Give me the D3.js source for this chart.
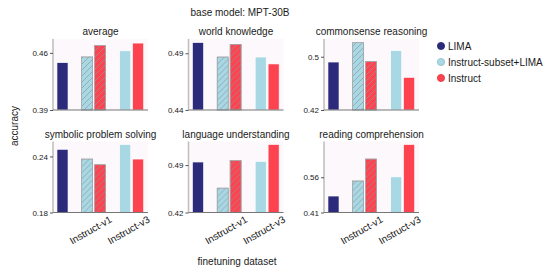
<!DOCTYPE html>
<html>
<head>
<meta charset="utf-8">
<script src="https://cdn.jsdelivr.net/npm/d3@7"></script>
<style>
  body { margin: 0; background: #fff; }
  text { font-family: "Liberation Sans", Arial, sans-serif; fill: #1a1a1a; }
</style>
</head>
<body>
<div id="chart"></div>
<script>
// data
var panelNames = ["average", "world knowledge", "commonsense reasoning",
                  "symbolic problem solving", "language understanding", "reading comprehension"];
var limaVals     = [0.448, 0.4994, 0.492, 0.2476, 0.4945, 0.480];
var subsetV1Vals = [0.455, 0.4867, 0.521, 0.2372, 0.456, 0.544];
var instrV1Vals  = [0.469, 0.4979, 0.4928, 0.2311, 0.4965, 0.6375];
var subsetV3Vals = [0.4625, 0.4867, 0.509, 0.2527, 0.4954, 0.5615];
var instrV3Vals  = [0.472, 0.4806, 0.469, 0.2372, 0.5203, 0.699];
var yMinVals  = [0.39, 0.44, 0.42, 0.18, 0.42, 0.41];
var yTickVals = [0.46, 0.49, 0.5, 0.24, 0.49, 0.56];
var yMaxVals  = [0.477, 0.5026, 0.5266, 0.256, 0.5248, 0.712];
var xTickLabels = ["Instruct-v1", "Instruct-v3"];
var legendLabels = ["LIMA", "Instruct-subset+LIMA", "Instruct"];

var colLima = "#2b2a7b", colSubset = "#a8d8e4", colInstr = "#fe4350";

var width = 550, height = 275;
var panelW = 95, panelH = 71;
var left0 = 53, colStep = 135.5;
var rowTops = [39, 141.5];

var svg = d3.select("#chart")
            .append("svg")
            .attr("width", width)
            .attr("height", height);

var defs = svg.append("defs");
var pat = defs.append("pattern")
    .attr("id", "hatch")
    .attr("patternUnits", "userSpaceOnUse")
    .attr("width", 6)
    .attr("height", 6);
pat.append("path")
    .attr("d", "M-1,1 l2,-2 M0,6 l6,-6 M5,7 l2,-2")
    .attr("stroke", "#8c9aa0")
    .attr("stroke-width", 0.7);

var x = d3.scaleLinear().domain([-0.07, 2.43]).range([0, panelW]);
var bw = 0.29;

svg.append("text")
    .attr("x", 240)
    .attr("y", 12)
    .attr("text-anchor", "middle")
    .attr("dominant-baseline", "central")
    .attr("font-size", 10)
    .text("base model: MPT-30B");

panelNames.forEach(function(name, i) {
    var row = Math.floor(i / 3), col = i % 3;
    var g = svg.append("g")
        .attr("transform", "translate(" + (left0 + col * colStep) + "," + rowTops[row] + ")");

    var y = d3.scaleLinear().domain([yMinVals[i], yMaxVals[i]]).range([panelH, 0]);

    g.append("rect")
        .attr("width", panelW)
        .attr("height", panelH)
        .attr("fill", "#fdf8fb");

    var bars = [
        {pos: 0.18, v: limaVals[i], c: colLima, h: false},
        {pos: 0.83, v: subsetV1Vals[i], c: colSubset, h: true},
        {pos: 1.17, v: instrV1Vals[i], c: colInstr, h: true},
        {pos: 1.83, v: subsetV3Vals[i], c: colSubset, h: false},
        {pos: 2.17, v: instrV3Vals[i], c: colInstr, h: false}
    ];

    var bg = g.append("g");
    bg.selectAll("rect.bar")
        .data(bars)
        .enter()
        .append("rect")
        .attr("class", "bar")
        .attr("x", (d) => x(d.pos - bw / 2))
        .attr("width", x(bw) - x(0))
        .attr("y", (d) => y(d.v))
        .attr("height", (d) => panelH - y(d.v))
        .attr("fill", (d) => d.c)
        .attr("stroke", (d) => d.h ? "#a0a4a8" : "#ffffff")
        .attr("stroke-width", 0.6);

    bg.selectAll("rect.hatch")
        .data(bars.filter((d) => d.h))
        .enter()
        .append("rect")
        .attr("class", "hatch")
        .attr("x", (d) => x(d.pos - bw / 2))
        .attr("width", x(bw) - x(0))
        .attr("y", (d) => y(d.v))
        .attr("height", (d) => panelH - y(d.v))
        .attr("fill", "url(#hatch)")
        .attr("stroke", "#a0a4a8")
        .attr("stroke-width", 0.6);

    // spines
    g.append("line")
        .attr("x1", 0).attr("x2", 0)
        .attr("y1", 0).attr("y2", panelH)
        .attr("stroke", "#bdbdbd")
        .attr("stroke-width", 1.5);
    g.append("line")
        .attr("x1", 0).attr("x2", panelW)
        .attr("y1", panelH).attr("y2", panelH)
        .attr("stroke", "#777")
        .attr("stroke-width", 1);

    var yaxis = d3.axisLeft(y)
        .tickValues([yMinVals[i], yTickVals[i]])
        .tickFormat((d) => +d.toFixed(2) + "")
        .tickSize(3)
        .tickPadding(2);
    var ya = g.append("g").call(yaxis);
    ya.select(".domain").remove();
    ya.selectAll("line").attr("stroke", "#555");
    ya.selectAll("text")
        .attr("font-size", 8)
        .style("font-family", "Liberation Sans, Arial, sans-serif")
        .attr("fill", "#1a1a1a");

    g.append("text")
        .attr("x", panelW / 2)
        .attr("y", -7.5)
        .attr("text-anchor", "middle")
        .attr("dominant-baseline", "central")
        .attr("font-size", 10)
        .text(name);

    if (row === 1) {
        xTickLabels.forEach(function(lab, k) {
            var cx = x(k + 1) - 3, cy = panelH + 17.5;
            g.append("text")
                .attr("x", cx)
                .attr("y", cy)
                .attr("text-anchor", "middle")
                .attr("dominant-baseline", "central")
                .attr("font-size", 10)
                .attr("transform", "rotate(-30," + cx + "," + cy + ")")
                .text(lab);
        });
    }
});

svg.append("text")
    .attr("transform", "translate(14,126) rotate(-90)")
    .attr("text-anchor", "middle")
    .attr("dominant-baseline", "central")
    .attr("font-size", 10)
    .text("accuracy");

svg.append("text")
    .attr("x", 237)
    .attr("y", 261)
    .attr("text-anchor", "middle")
    .attr("dominant-baseline", "central")
    .attr("font-size", 10)
    .text("finetuning dataset");

var legColors = [colLima, colSubset, colInstr];
var leg = svg.append("g").attr("transform", "translate(441,46)");
leg.selectAll("circle")
    .data(legendLabels)
    .enter()
    .append("circle")
    .attr("cx", 0)
    .attr("cy", (d, i) => i * 16)
    .attr("r", 3.6)
    .attr("fill", (d, i) => legColors[i])
    .attr("stroke", (d, i) => d3.color(legColors[i]).darker(0.4))
    .attr("stroke-width", 0.8);
leg.selectAll("text")
    .data(legendLabels)
    .enter()
    .append("text")
    .attr("x", 7)
    .attr("y", (d, i) => i * 16)
    .attr("dominant-baseline", "central")
    .attr("font-size", 10)
    .text((d) => d);
</script>
</body>
</html>
